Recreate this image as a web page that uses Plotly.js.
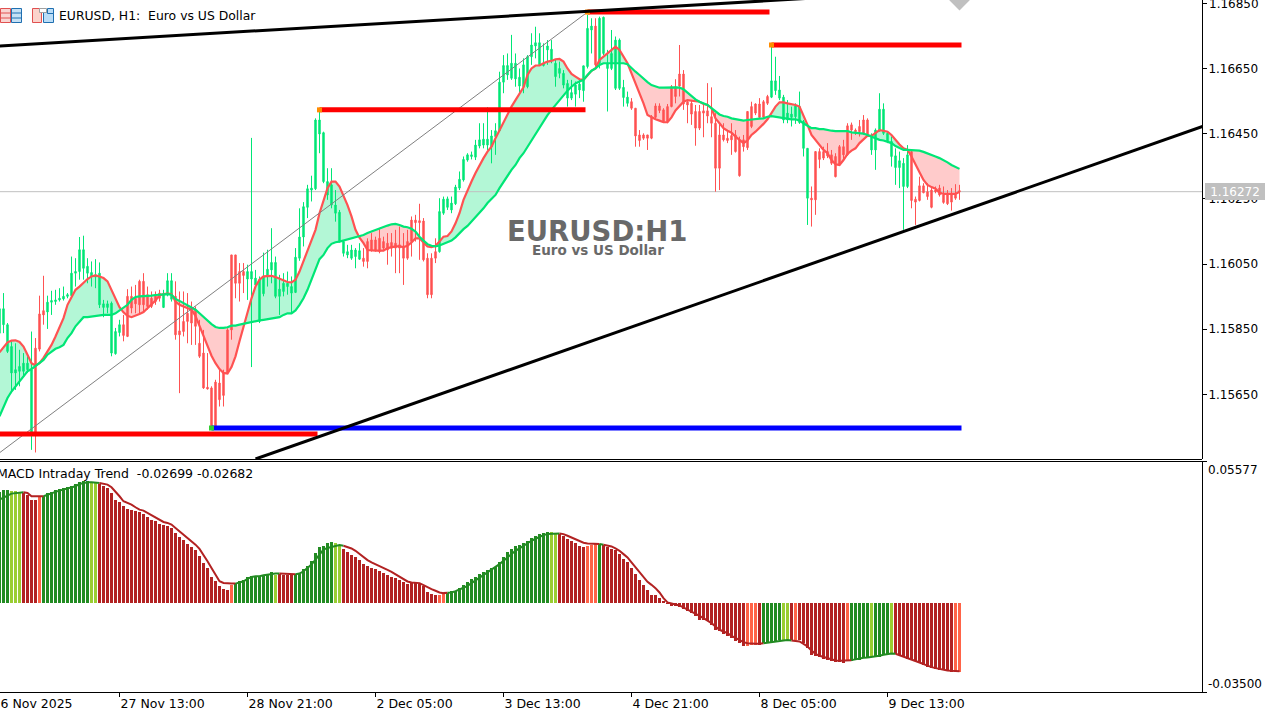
<!DOCTYPE html>
<html><head><meta charset="utf-8">
<script src="https://cdn.plot.ly/plotly-3.0.1.min.js"></script>
<style>html,body{margin:0;padding:0;background:#fff;overflow:hidden;width:1279px;height:715px}
#chart{position:absolute;left:-16px;top:0;width:1295px;height:715px}</style>
</head><body><div id="chart"></div>
<script>
// Prices are in points above 1.15000 (1 point = 0.00001). One bar per hour, index 0..240.
const PRICE_BASE = 1.15;
const open = [
838,864,782,716,716,721,721,726,532,792,
897,907,903,933,935,940,943,951,953,1022,
1027,1037,1022,1012,1010,925,917,917,777,775,
840,864,951,951,945,997,997,956,945,956,
961,917,956,942,951,845,874,899,915,910,
807,777,672,670,688,685,716,848,1078,1078,
1027,1027,1004,1004,986,874,959,1012,1032,951,
951,966,981,961,963,1068,1133,1224,1277,1281,
1449,1303,1262,1231,1206,1119,1083,1078,1068,1073,
1065,1068,1119,1124,1124,1129,1119,1114,1116,1114,
1109,1104,1119,1185,1185,1183,1182,1068,1068,1088,
1088,1206,1224,1216,1235,1283,1308,1369,1380,1378,
1412,1415,1415,1410,1441,1459,1608,1630,1620,1618,
1596,1594,1594,1686,1719,1661,1659,1707,1676,1625,
1635,1599,1559,1559,1571,1584,1582,1656,1768,1780,
1666,1696,1650,1650,1589,1589,1561,1543,1548,1528,
1446,1446,1446,1502,1535,1535,1523,1533,1594,1594,
1633,1633,1548,1543,1518,1518,1520,1520,1502,1482,
1446,1446,1436,1444,1446,1431,1431,1518,1533,1541,
1541,1548,1564,1562,1582,1559,1492,1492,1500,1502,
1484,1405,1252,1252,1395,1395,1395,1395,1385,1380,
1410,1410,1474,1477,1461,1472,1492,1492,1400,1400,
1459,1451,1426,1380,1346,1346,1288,1288,1395,1249,
1290,1290,1272,1277,1277,1283,1262,1262,1262,1267,1275];
const close = [
913,913,864,797,726,736,746,746,726,532,
789,894,933,938,940,945,951,956,1022,1027,
1094,1094,1043,1024,1017,1022,928,928,930,843,
864,831,828,915,928,925,925,920,920,935,
945,956,999,999,833,833,843,874,869,859,
767,670,667,552,552,634,647,716,848,991,
991,1015,1027,1027,1007,1002,1012,1034,1055,1055,
973,991,991,981,1071,1133,1226,1281,1283,1492,
1492,1453,1303,1293,1231,1209,1119,1088,1093,1093,
1091,1058,1058,1093,1093,1088,1099,1093,1099,1099,
1099,1068,1068,1119,1177,1177,1063,956,956,1068,
1211,1249,1250,1237,1286,1310,1371,1385,1385,1415,
1431,1433,1433,1443,1459,1608,1659,1659,1666,1666,
1623,1661,1686,1722,1729,1729,1666,1719,1709,1666,
1650,1635,1604,1576,1599,1602,1658,1773,1780,1661,
1804,1807,1666,1696,1737,1737,1592,1562,1528,1443,
1429,1436,1436,1436,1500,1521,1487,1487,1533,1564,
1596,1541,1538,1510,1467,1467,1513,1504,1482,1344,
1344,1431,1429,1431,1395,1321,1410,1407,1472,1513,
1500,1500,1543,1612,1612,1584,1562,1513,1510,1535,
1533,1487,1405,1247,1247,1371,1375,1382,1359,1318,
1354,1385,1385,1461,1456,1456,1451,1446,1446,1461,
1525,1525,1451,1426,1382,1367,1359,1385,1245,1240,
1245,1269,1257,1224,1272,1262,1239,1235,1240,1252,1272];
const high = [
956,961,869,813,807,787,777,767,843,823,
953,1014,953,968,971,976,981,961,1073,1068,
1133,1137,1068,1058,1065,1055,940,938,935,854,
879,894,973,981,986,1002,1022,981,966,966,
971,971,1022,1022,997,966,966,961,935,920,
879,848,777,675,695,726,726,853,1078,1078,
1053,1053,1048,1437,1032,1012,1085,1094,1160,1073,
1017,1022,1027,1012,1099,1221,1240,1293,1321,1497,
1518,1456,1344,1344,1277,1216,1122,1109,1109,1099,
1114,1099,1129,1145,1134,1160,1134,1145,1145,1155,
1165,1145,1155,1196,1201,1235,1191,1083,1083,1129,
1252,1257,1257,1257,1293,1334,1380,1390,1395,1431,
1482,1482,1531,1461,1482,1640,1691,1696,1753,1696,
1650,1681,1691,1758,1778,1758,1727,1737,1737,1676,
1671,1645,1615,1615,1610,1620,1658,1814,1804,1804,
1809,1809,1707,1768,1748,1742,1615,1579,1559,1528,
1461,1451,1446,1507,1543,1543,1528,1541,1599,1617,
1722,1645,1555,1553,1538,1538,1538,1605,1592,1513,
1482,1482,1456,1482,1461,1441,1446,1518,1548,1543,
1559,1553,1569,1717,1686,1627,1569,1553,1533,1543,
1579,1492,1405,1288,1395,1405,1410,1421,1400,1390,
1415,1431,1482,1484,1466,1492,1507,1497,1451,1466,
1574,1543,1456,1441,1405,1395,1375,1415,1400,1257,
1318,1298,1298,1283,1288,1293,1288,1277,1283,1295,1293];
const low = [
830,838,777,654,664,675,705,716,480,472,
782,864,851,894,925,935,938,945,945,981,
1002,1002,991,981,976,915,887,899,767,772,
828,813,826,899,899,899,905,910,915,925,
935,915,951,935,818,654,828,807,802,802,
762,667,665,550,550,613,613,713,818,945,
935,961,940,734,976,869,951,981,991,945,
894,951,956,899,961,1060,1104,1191,1242,1277,
1390,1298,1247,1221,1180,1116,1073,1068,1063,1037,
1063,1042,1037,1088,1088,1083,1093,1048,1073,1022,
1022,986,1063,1073,1119,1063,1058,945,945,1053,
1085,1201,1216,1206,1231,1277,1303,1364,1371,1369,
1405,1405,1400,1359,1385,1456,1574,1615,1615,1594,
1569,1574,1589,1661,1681,1658,1656,1661,1666,1594,
1620,1589,1533,1553,1533,1559,1548,1650,1696,1656,
1650,1691,1518,1645,1584,1584,1533,1533,1523,1410,
1410,1431,1400,1433,1492,1513,1484,1482,1531,1543,
1564,1523,1482,1477,1413,1461,1439,1482,1439,1272,
1277,1426,1421,1385,1392,1318,1395,1400,1467,1507,
1497,1497,1538,1559,1569,1553,1482,1482,1472,1480,
1480,1380,1170,1165,1201,1344,1369,1375,1354,1316,
1351,1369,1382,1431,1446,1441,1446,1443,1385,1339,
1456,1446,1421,1349,1293,1283,1155,1283,1221,1170,
1242,1267,1247,1221,1267,1257,1235,1231,1214,1247,1247];
const fastMA = [
779,795,810,815,816,811,797,772,746,739,
746,762,782,802,828,854,884,925,949,971,
981,994,1004,1012,1015,1012,1007,997,971,942,
918,902,891,887,891,897,903,915,925,938,
954,958,959,958,935,925,920,915,910,891,
859,828,797,769,746,728,716,714,734,767,
813,859,905,945,981,1002,1012,1012,1014,1010,
1005,1000,995,994,1002,1027,1058,1089,1124,1155,
1206,1247,1283,1303,1303,1288,1262,1231,1196,1155,
1131,1114,1093,1091,1091,1091,1091,1099,1102,1104,
1104,1102,1106,1116,1129,1129,1116,1104,1102,1106,
1119,1134,1136,1150,1175,1206,1247,1277,1303,1329,
1354,1375,1395,1410,1436,1461,1482,1507,1533,1553,
1574,1592,1630,1650,1659,1659,1666,1671,1673,1678,
1679,1671,1650,1633,1625,1617,1615,1630,1643,1650,
1676,1686,1696,1707,1717,1707,1686,1666,1635,1605,
1574,1543,1507,1500,1494,1490,1485,1485,1500,1521,
1535,1548,1553,1551,1548,1548,1541,1538,1528,1497,
1482,1467,1459,1453,1441,1431,1421,1429,1446,1456,
1467,1480,1494,1513,1533,1546,1546,1543,1541,1538,
1533,1507,1477,1446,1431,1415,1400,1390,1369,1356,
1354,1369,1388,1398,1405,1421,1433,1444,1443,1453,
1461,1459,1456,1446,1431,1417,1405,1400,1380,1354,
1332,1308,1293,1286,1281,1269,1265,1265,1265,1265,1272];
const slowMA = [
583,613,639,659,675,690,705,721,728,738,
748,756,772,782,790,795,802,823,838,859,
874,887,887,889,892,893,894,894,894,899,
908,915,925,940,949,951,951,951,953,955,
956,957,958,956,943,937,930,925,918,910,
899,887,877,866,857,854,854,856,861,861,
864,867,869,871,874,877,879,881,884,884,
887,894,899,899,908,925,945,971,1002,1035,
1065,1078,1099,1112,1117,1119,1122,1126,1129,1132,
1136,1139,1145,1150,1155,1160,1165,1168,1172,1173,
1170,1165,1163,1158,1150,1134,1122,1111,1106,1104,
1107,1112,1117,1122,1132,1145,1157,1167,1180,1196,
1208,1221,1237,1250,1262,1283,1303,1323,1339,1354,
1375,1390,1410,1426,1446,1467,1487,1507,1523,1538,
1555,1569,1582,1594,1604,1610,1615,1630,1643,1650,
1661,1666,1666,1666,1666,1666,1666,1663,1650,1640,
1630,1618,1608,1599,1594,1591,1591,1592,1592,1592,
1591,1586,1576,1566,1555,1548,1543,1538,1528,1518,
1509,1504,1502,1497,1494,1492,1490,1492,1494,1496,
1496,1497,1502,1504,1502,1500,1496,1494,1494,1494,
1490,1482,1474,1467,1467,1464,1464,1461,1459,1458,
1458,1458,1458,1454,1453,1451,1450,1446,1441,1436,
1431,1429,1426,1421,1412,1405,1400,1400,1400,1400,
1398,1394,1390,1385,1380,1375,1369,1362,1354,1349,1342];
// MACD panel values, in units of 0.00001.
const macdHist = [
4379,4445,4471,4431,4405,4340,4340,4274,4077,4077,
4182,4208,4340,4379,4445,4497,4536,4576,4628,4681,
4760,4799,4799,4760,4733,4707,4602,4536,4340,4077,
3972,3814,3722,3657,3617,3591,3512,3381,3289,3223,
3132,3092,3053,2961,2764,2593,2501,2344,2212,2081,
1871,1582,1385,1031,860,663,558,532,729,794,
860,926,1031,1083,1083,1057,1123,1149,1228,1123,
1162,1123,1123,1123,1149,1188,1346,1477,1648,1976,
2212,2265,2370,2390,2363,2258,2127,1996,1891,1799,
1707,1536,1444,1379,1339,1247,1169,1103,1011,972,
906,814,762,788,788,748,657,420,355,315,
315,355,394,460,486,578,709,814,945,1011,
1142,1234,1300,1379,1431,1602,1799,1996,2127,2232,
2285,2363,2455,2547,2652,2718,2757,2784,2784,2718,
2718,2626,2521,2455,2363,2258,2219,2258,2298,2324,
2324,2298,2193,2127,2101,1930,1733,1602,1379,1142,
919,709,525,328,302,197,92,-26,-105,-131,
-158,-236,-328,-394,-525,-657,-683,-722,-853,-1077,
-1116,-1221,-1313,-1379,-1510,-1576,-1707,-1707,-1668,-1668,
-1641,-1576,-1576,-1576,-1536,-1471,-1471,-1444,-1444,-1444,
-1471,-1576,-1773,-2035,-2101,-2127,-2193,-2232,-2298,-2324,
-2337,-2363,-2271,-2271,-2258,-2232,-2166,-2166,-2101,-2127,
-2127,-2061,-2035,-1970,-1996,-2061,-2140,-2193,-2232,-2298,
-2363,-2429,-2521,-2560,-2587,-2626,-2652,-2690,-2700,-2700,-2699];
const macdSignal = [
4077,4143,4234,4313,4340,4366,4366,4340,4208,4208,
4208,4208,4274,4340,4379,4431,4471,4510,4550,4602,
4694,4733,4760,4760,4760,4733,4707,4668,4563,4405,
4208,4011,3946,3880,3775,3683,3644,3552,3447,3355,
3263,3197,3158,3092,2961,2830,2698,2567,2436,2304,
2134,1910,1648,1385,1123,860,794,768,768,768,
821,860,952,1031,1057,1057,1096,1123,1162,1162,
1162,1149,1136,1123,1136,1162,1254,1385,1517,1713,
1910,2107,2173,2219,2258,2285,2258,2219,2153,2061,
1930,1799,1694,1602,1536,1471,1392,1313,1234,1142,
1050,945,853,814,814,788,709,617,551,486,
420,394,407,420,473,525,604,683,788,880,
998,1103,1208,1313,1418,1536,1668,1799,1930,2061,
2153,2258,2363,2455,2534,2613,2679,2718,2731,2744,
2744,2718,2652,2587,2508,2429,2377,2350,2337,2324,
2324,2298,2271,2232,2153,2061,1930,1799,1602,1405,
1208,1011,840,720,591,420,197,26,-26,-53,
-92,-171,-263,-328,-394,-499,-591,-683,-788,-919,
-1050,-1116,-1182,-1287,-1379,-1457,-1536,-1576,-1602,-1602,
-1602,-1576,-1549,-1536,-1510,-1484,-1471,-1457,-1471,-1484,
-1510,-1602,-1707,-1864,-1996,-2075,-2127,-2180,-2232,-2258,
-2271,-2271,-2271,-2245,-2206,-2180,-2153,-2140,-2127,-2101,
-2075,-2035,-1996,-1983,-1996,-2048,-2101,-2153,-2206,-2271,
-2337,-2403,-2468,-2521,-2560,-2600,-2626,-2652,-2666,-2666,-2682];
const macdStates =
"GGGLLLRRRR"+"TGGGGGGGGG"+"GGGLLRRRRR"+"RRRRRRRRRR"+"RRRRRRRRRR"+"RRRRRRRRTG"+
"GGGGGGGGGL"+"RRRRGGGGGG"+"GGGGLLRRRR"+"RRRRRRRRRR"+"RRRRRRRRRR"+"TTGGGGGGGG"+
"GGGGGGGGGG"+"GGGGGGGGLL"+"RRRRRRRTTT"+"GRRRRRRRRR"+"RRRRRRRRRR"+"RRRRRRRRRR"+
"RRRRRRRTTT"+"RGGGGGLLRT"+"RRRRRRRRRR"+"RRTGGGGGLG"+"GGGLRRRRRR"+"RRRRRRRRRTT";
const macdStateColors = {G:"#228B22",L:"#9ACD32",R:"#B22222",T:"#FF6347"};
// Drawn objects, as [bar, points] pairs.
const upperTrend = [[0,1719],[202,1865],[302,1972]];
const lowerTrend = [[64,452],[301,1473]];
const diagonalRay = [[0,471],[147,1823]];
const resistanceLevels = [[-4,79.5,529],[80,146.5,1523],[147,192.5,1823],[193,240.5,1722]];
const supportLevel = [53,240.5,547];
const orangeMarks = [[80,1523],[193,1722],[147,1823]];
const limeMark = [53,547];
const lastPrice = 1272;
const yTicks = [1.1685,1.1665,1.1645,1.1625,1.1605,1.1585,1.1565];
const macdTicks = [-0.035,0.05577];
const timeTickBars = [-2,30,62,94,126,158,190,222];
const timeLabels = ["26 Nov 2025","27 Nov 13:00","28 Nov 21:00","2 Dec 05:00","3 Dec 13:00","4 Dec 21:00","8 Dec 05:00","9 Dec 13:00"];

const W=1295,H=715,OFF=16;
const px=x=>(x+OFF)/W, py=y=>1-y/H;
const P=p=>PRICE_BASE+p/1e5;
const bars=open.map((_,i)=>i);
const FONT="DejaVu Sans";
const traces=[];
// Cloud between the two averages (lowest layer)
(function(){
  let seg=null; const polys=[];
  for(let i=0;i<bars.length;i++){
    const d=fastMA[i]-slowMA[i], up=d>=0;
    if(seg&&seg.up!==up){
      const dp=fastMA[i-1]-slowMA[i-1], t=dp/(dp-d), xc=i-1+t, yc=fastMA[i-1]+t*(fastMA[i]-fastMA[i-1]);
      seg.x.push(xc);seg.f.push(yc);seg.s.push(yc);polys.push(seg);
      seg={up,x:[xc],f:[yc],s:[yc]};
    }
    if(!seg) seg={up,x:[],f:[],s:[]};
    seg.x.push(i);seg.f.push(fastMA[i]);seg.s.push(slowMA[i]);
  }
  polys.push(seg);
  polys.forEach(g=>traces.push({type:"scatter",mode:"lines",xaxis:"x",yaxis:"y",
    x:g.x.concat(g.x.slice().reverse()),
    y:g.f.concat(g.s.slice().reverse()).map(P),
    fill:"toself",fillcolor:g.up?"#B3F7D6":"#FFCBCB",line:{width:0},hoverinfo:"skip"}));
})();
// Last price line
traces.push({type:"scatter",mode:"lines",xaxis:"x",yaxis:"y",x:[-4,301],y:[P(lastPrice),P(lastPrice)],
  line:{color:"#C0C0C0",width:1},hoverinfo:"skip"});
// Candles in an overlay so that they sit above the cloud
traces.push({type:"candlestick",xaxis:"x",yaxis:"y3",x:bars,open:open.map(P),high:high.map(P),low:low.map(P),close:close.map(P),
  increasing:{line:{color:"#00E676",width:1},fillcolor:"#00E676"},
  decreasing:{line:{color:"#FF5252",width:1},fillcolor:"#FF5252"},
  whiskerwidth:0,hoverinfo:"skip"});
const lineOn3=(pts,color,width)=>({type:"scatter",mode:"lines",xaxis:"x",yaxis:"y3",
  x:pts.map(p=>p[0]),y:pts.map(p=>P(p[1])),line:{color,width},hoverinfo:"skip"});
traces.push({type:"scatter",mode:"lines",xaxis:"x",yaxis:"y3",x:bars,y:fastMA.map(P),line:{color:"#FF5252",width:2.2},hoverinfo:"skip"});
traces.push({type:"scatter",mode:"lines",xaxis:"x",yaxis:"y3",x:bars,y:slowMA.map(P),line:{color:"#00E676",width:2.2},hoverinfo:"skip"});
traces.push(lineOn3(diagonalRay,"#808080",1));
resistanceLevels.forEach(l=>traces.push(lineOn3([[l[0],l[2]],[l[1],l[2]]],"#FF0000",5)));
traces.push(lineOn3([[supportLevel[0],supportLevel[2]],[supportLevel[1],supportLevel[2]]],"#0000FF",5));
traces.push({type:"scatter",mode:"markers",xaxis:"x",yaxis:"y3",x:orangeMarks.map(m=>m[0]),y:orangeMarks.map(m=>P(m[1])),
  marker:{symbol:"square",size:5,color:"#FF8C00"},hoverinfo:"skip"});
traces.push({type:"scatter",mode:"markers",xaxis:"x",yaxis:"y3",x:[limeMark[0]],y:[P(limeMark[1])],
  marker:{symbol:"square",size:5,color:"#32CD32"},hoverinfo:"skip"});
traces.push(lineOn3(upperTrend,"#000000",3));
traces.push(lineOn3(lowerTrend,"#000000",3));
// Grey flag at the top of the last bar
traces.push({type:"scatter",mode:"markers",xaxis:"x",yaxis:"y3",x:[240],y:[P(1860)],
  marker:{symbol:"diamond",size:16,color:"#C0C0C0"},hoverinfo:"skip"});
// MACD panel
traces.push({type:"bar",xaxis:"x",yaxis:"y2",x:bars,y:macdHist.map(v=>v/1e5),width:0.75,
  marker:{color:bars.map(i=>macdStateColors[macdStates[i]],),line:{width:0}},hoverinfo:"skip"});
(function(){
  const isUp=i=>macdStates[i]==="G"||macdStates[i]==="L";
  let start=0;
  for(let i=1;i<=bars.length;i++){
    if(i===bars.length||isUp(i)!==isUp(start)){
      const end=Math.min(i,bars.length-1);
      traces.push({type:"scatter",mode:"lines",xaxis:"x",yaxis:"y2",
        x:bars.slice(start,end+1),y:macdSignal.slice(start,end+1).map(v=>v/1e5),
        line:{color:isUp(start)?"#228B22":"#B22222",width:2},hoverinfo:"skip"});
      start=i;
    }
  }
})();
const tickFont={family:FONT,size:12,color:"#000"};
const shapes=[
  {type:"line",xref:"paper",yref:"paper",x0:0,x1:px(1202),y0:py(459.5),y1:py(459.5),line:{color:"#000",width:1}},
];
const rectPx=(x0,y0,x1,y1,stroke,fill)=>({type:"rect",xref:"paper",yref:"paper",x0:px(x0),x1:px(x1),y0:py(y0),y1:py(y1),line:{color:stroke,width:1},fillcolor:fill});
const barPx=(x0,y,x1,color)=>({type:"line",xref:"paper",yref:"paper",x0:px(x0),x1:px(x1),y0:py(y),y1:py(y),line:{color,width:1}});
shapes.push(rectPx(0.5,8.5,10.5,22.5,"#E05050","#F9D5D2"),rectPx(11.5,8.5,21.5,22.5,"#1F6FB0","#C5E0F5"),
  barPx(1,13,10,"#E05050"),barPx(1,18,10,"#E05050"),barPx(12,13,21,"#1F6FB0"),barPx(12,18,21,"#1F6FB0"),
  rectPx(32.5,8.5,41.5,22.5,"#E05050","#FBD3CC"),rectPx(43.5,12.5,53.5,22.5,"#1F6FB0","#BBDDF7"),
  rectPx(39.5,8.5,46.5,12.5,"#A0A0A0","#FFFFFF"),rectPx(47.5,8.5,53.5,13.5,"#1F6FB0","#BBDDF7"));
const note=(text,x,y,opt)=>Object.assign({text,xref:"paper",yref:"paper",x:px(x),y:py(y),showarrow:false,
  xanchor:"left",yanchor:"middle",borderpad:0,borderwidth:0,font:{family:FONT,size:12,color:"#000"}},opt||{});
const layout={
  width:W,height:H,margin:{l:0,r:0,t:0,b:0},paper_bgcolor:"#fff",plot_bgcolor:"#fff",showlegend:false,dragmode:false,
  boxgap:0.5,boxmode:"overlay",bargap:0,
  xaxis:{domain:[0,px(1202)],range:[-3.875,300.625],anchor:"y2",type:"linear",showgrid:false,zeroline:false,
    rangeslider:{visible:false},showline:true,linecolor:"#000",linewidth:1,mirror:true,
    ticks:"outside",ticklen:4,tickcolor:"#000",tickmode:"array",tickvals:timeTickBars,ticktext:timeLabels,
    ticklabelposition:"outside right",tickangle:0,tickfont:{family:FONT,size:12.5,color:"#000"}},
  yaxis:{domain:[py(459),1],range:[P(452),P(1860)],side:"right",anchor:"x",showgrid:false,zeroline:false,
    showline:true,linecolor:"#000",linewidth:1,ticks:"outside",ticklen:4,tickcolor:"#000",ticklabelstandoff:-1,
    tickmode:"array",tickvals:yTicks,ticktext:yTicks.map((v,i)=>i===0?"":v.toFixed(5)),tickfont:tickFont},
  yaxis3:{overlaying:"y",range:[P(452),P(1860)],side:"right",anchor:"x",visible:false,showgrid:false,zeroline:false},
  yaxis2:{domain:[py(692),py(461.5)],range:[macdTicks[0],macdTicks[1]],side:"right",anchor:"x",showgrid:false,zeroline:false,
    showline:true,linecolor:"#000",linewidth:1,ticks:"outside",ticklen:4,tickcolor:"#000",
    tickmode:"array",tickvals:macdTicks,ticktext:["",""]},
  shapes,
  annotations:[
    note("EURUSD, H1:\u00A0\u00A0Euro vs US Dollar",59,15.5,{font:{family:FONT,size:12.4,color:"#000"}}),
    note("MACD Intraday Trend\u00A0\u00A0-0.02699 -0.02682",-3,474,{font:{family:FONT,size:12.5,color:"#000"}}),
    note("EURUSD:H1",597,231,{xanchor:"center",font:{family:FONT,size:27.5,color:"#696969",weight:700}}),
    note("Euro vs US Dollar",597.5,250,{xanchor:"center",font:{family:FONT,size:13.5,color:"#696969",weight:700}}),
    note(yTicks[0].toFixed(5),1208.5,3.5),
    note(P(lastPrice).toFixed(5),1205,191.5,{width:60,height:17,align:"center",bgcolor:"#C0C0C0",font:{family:FONT,size:12,color:"#fff"}}),
    note(macdTicks[1].toFixed(5),1208,470),
    note(macdTicks[0].toFixed(5),1208,684),
  ]
};
Plotly.newPlot("chart",traces,layout,{displayModeBar:false,staticPlot:true});
</script></body></html>
